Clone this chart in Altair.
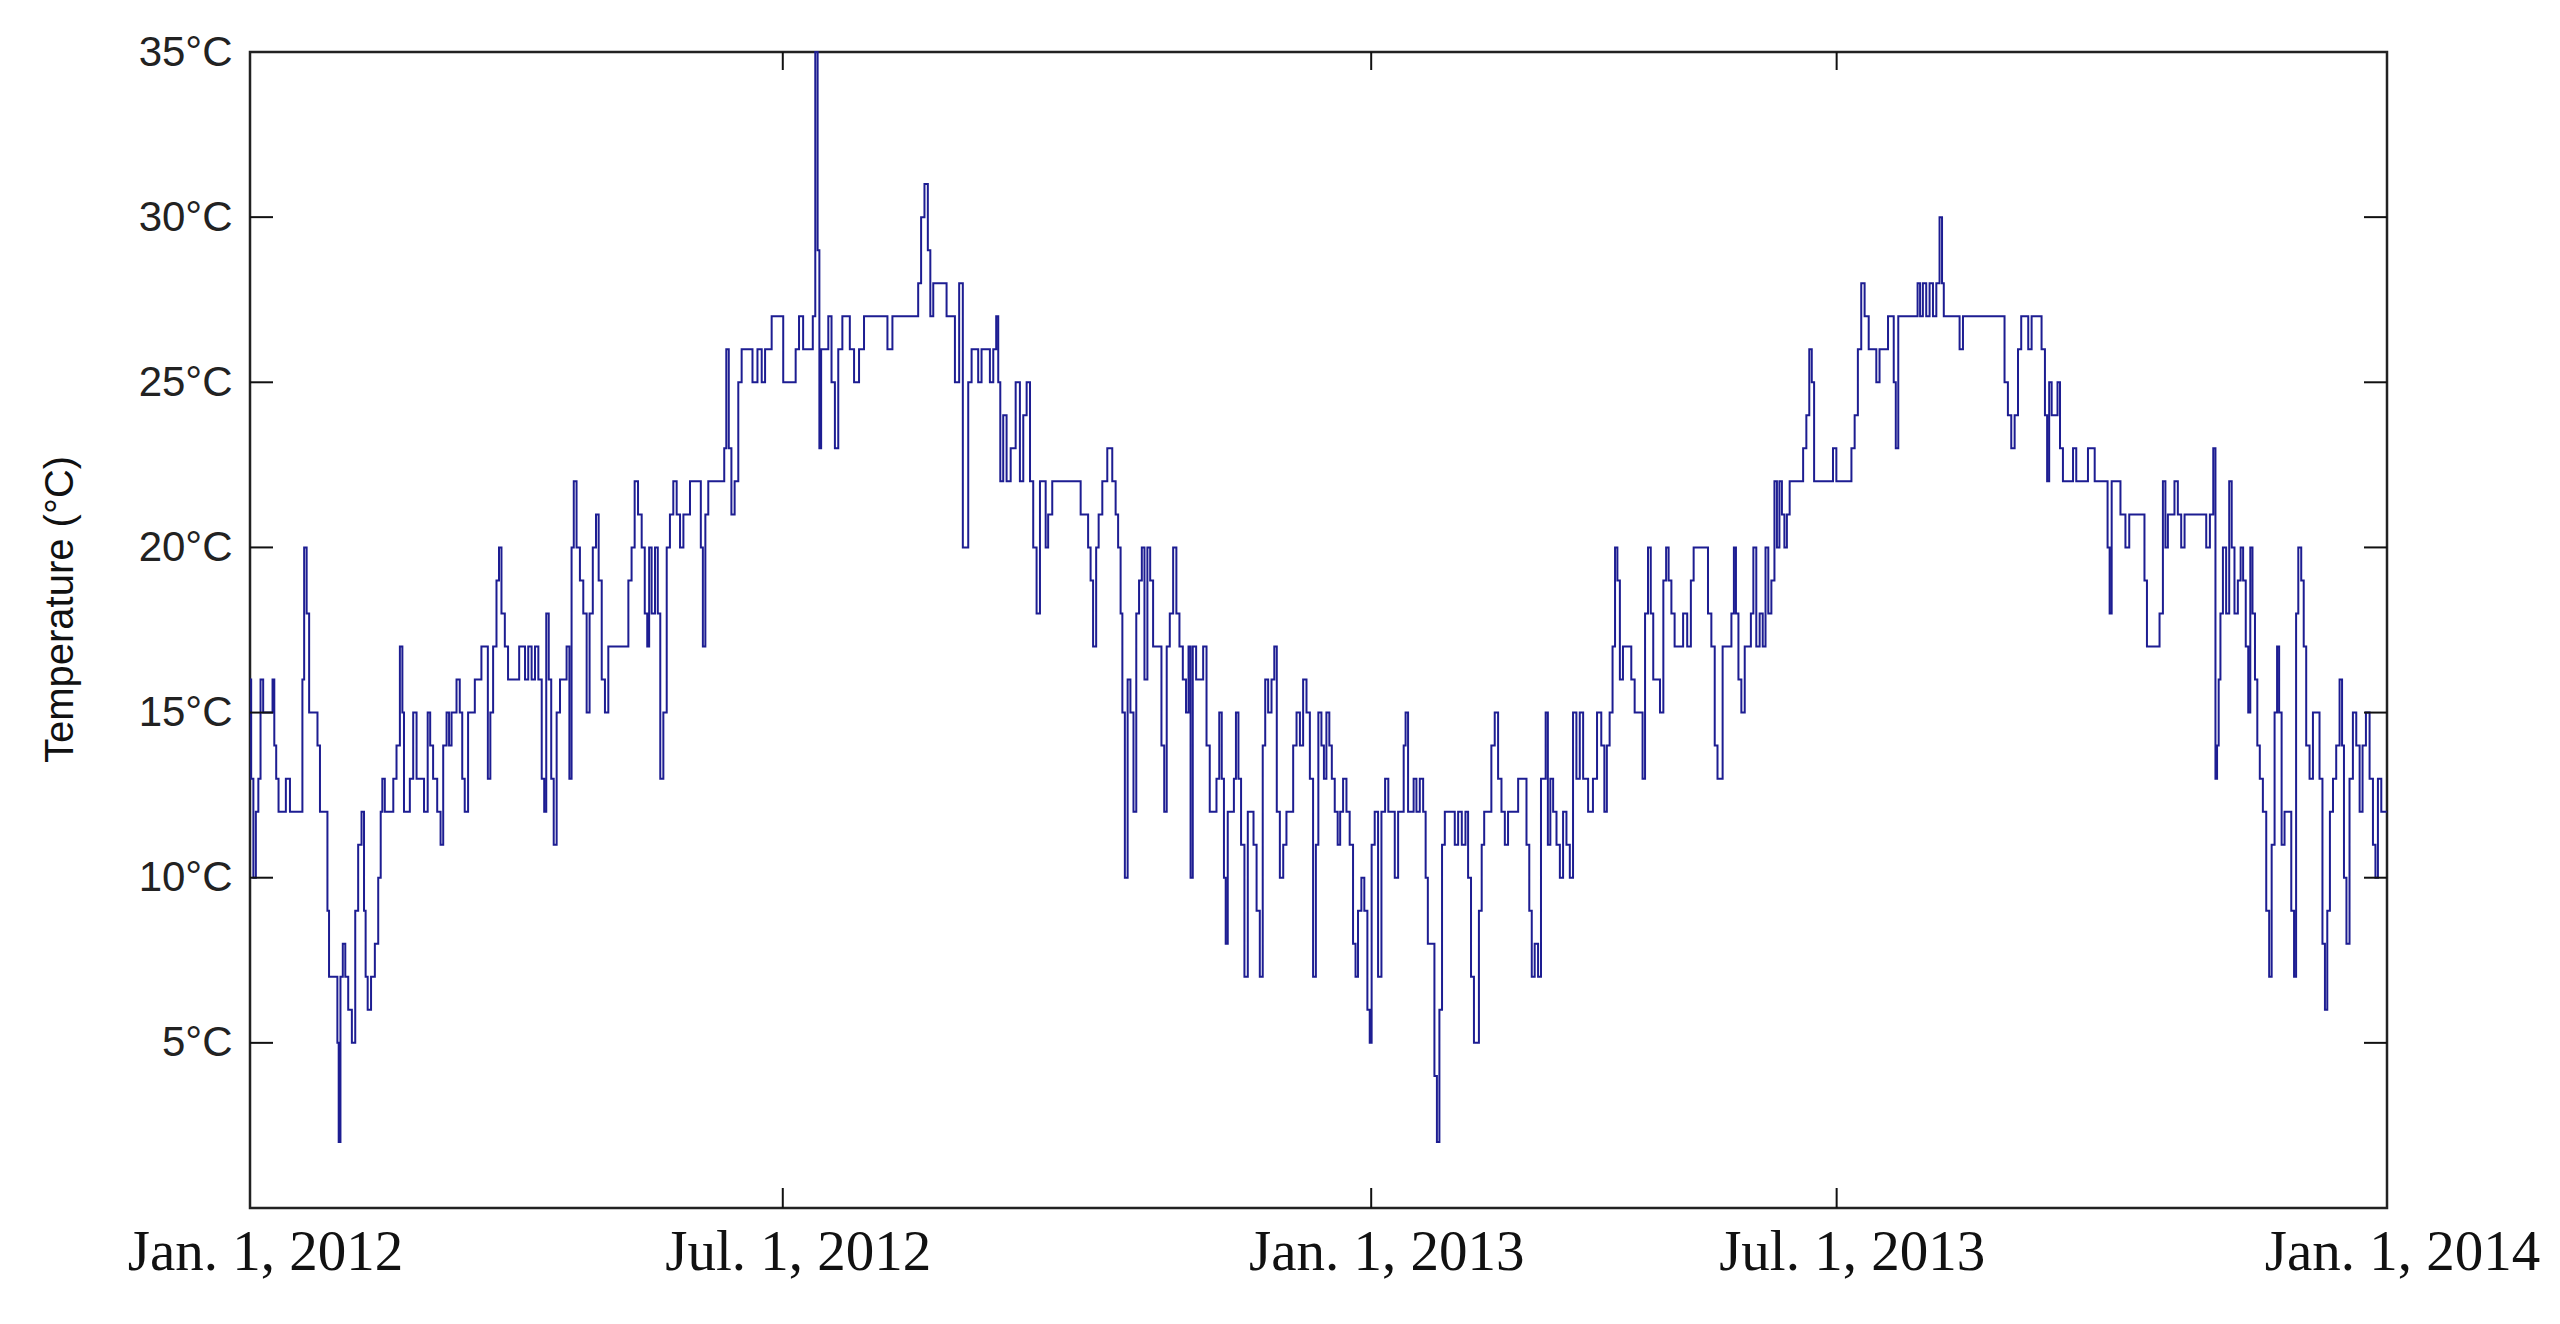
import altair as alt
import pandas as pd

# ---- data (day index from Jan 1 2012, temperature in °C) ----
days_a = [0, 0.8, 1.5, 2.5, 3.2, 4, 5, 7.4, 8, 8.6, 9.3, 10.2, 11.4, 13.1, 14.2, 17.6, 18.2, 18.8, 19.9, 20.5,
          22.8, 23.3, 24.5, 26.2, 26.7, 27.3, 29.6, 30.1, 30.5, 31.3, 32.1, 33, 34.1, 35.5, 36.4, 37.5, 38.7, 39.2,
          39.8, 40.6, 42.1, 43.2, 44.4, 44.9, 45.5, 46.6, 48.4, 49.5, 50.6, 51.8, 52.3, 52.9, 54, 55.2, 56.3, 57.5,
          58.6, 60.3, 61.1, 62, 63.1, 64.8, 65.4, 66.6, 67.7, 68.3, 69.4, 70, 71.1, 72.2, 72.8, 73.9, 75.1, 76.2,
          77.4, 78.5, 79.6, 80.8, 81.7, 82.5, 83.6, 84.8, 85.3, 86.5, 87.6, 88.7]
temps_a = [16, 13, 10, 12, 13, 16, 15, 15, 16, 14, 13, 12, 12, 13, 12, 12, 16, 20, 18, 15,
           15, 14, 12, 12, 9, 7, 7, 5, 2, 7, 8, 7, 6, 5, 9, 11, 12, 9,
           7, 6, 7, 8, 10, 12, 13, 12, 12, 13, 14, 17, 15, 12, 12, 13, 15, 13,
           13, 12, 15, 14, 13, 12, 11, 14, 15, 14, 15, 15, 16, 15, 13, 12, 15, 15,
           16, 16, 17, 17, 13, 15, 17, 19, 20, 18, 17, 16]

days_b = [90.5, 93.4, 94.5, 95.6, 96.8, 97.9, 99.1, 100.2, 100.8, 101.6, 102.5, 103.3, 104.2, 105.3, 106.5,
          107.6, 108.7, 109.5, 110.2, 111, 112.1, 113.3, 114.4, 115.6, 116.4, 117.8, 118.6, 119.6, 120.7, 121.8,
          123, 126.4, 128.7, 129.8, 130.9, 131.9, 133.2, 134.4, 135.3, 136.1, 136.6, 137.8, 138.9, 139.7, 140.6,
          141.8, 142.9, 144, 145.2, 146.3, 147.5, 148.6, 149.7, 150.9, 153.7, 154.3, 155.1, 156, 157.1, 158.3,
          161.7, 162.3, 163.1, 164, 164.9, 166.2, 167.4, 168.5, 170.8, 172.5, 174.2, 175.4, 176.5, 177.6, 178.8,
          181.6]
temps_b = [16, 17, 16, 17, 16, 17, 16, 13, 12, 18, 16, 13, 11, 15, 16,
           16, 17, 13, 20, 22, 20, 19, 18, 15, 18, 20, 21, 19, 16, 15,
           17, 17, 17, 19, 20, 22, 21, 20, 18, 17, 20, 18, 20, 18, 13,
           15, 20, 21, 22, 21, 20, 21, 21, 22, 22, 20, 17, 21, 22, 22,
           22, 23, 26, 23, 21, 22, 25, 26, 26, 25, 26, 25, 26, 26, 27,
           27]

days_c = [182.7, 186.1, 186.7, 188.4, 189.5, 191.8, 192.7, 193.5, 194.3, 194.7, 195.5, 197, 198.1, 199.2, 200.4,
          201.5, 203.2, 204.3, 205.5, 207.2, 208.9, 210.6, 211.8, 216.9, 218.6, 220.3, 227.7, 228.8, 229.7, 231.1,
          232, 232.8, 234, 235.7, 237.4, 238.5, 240.2, 241.4, 243.1, 243.9, 244.8, 245.9, 247.1, 248.2, 249.3,
          250.5, 252.2, 253.3, 254.5, 255.3, 255.9, 256.7, 257.9, 259, 260.7, 262.4, 263.6, 264.7, 265.9, 267,
          268.1, 269.3, 270.4, 271.5]
temps_c = [25, 25, 26, 27, 26, 26, 27, 35, 29, 23, 26, 26, 27, 25, 23,
           26, 27, 27, 26, 25, 26, 27, 27, 27, 26, 27, 27, 28, 30, 31,
           29, 27, 28, 28, 28, 27, 27, 25, 28, 20, 20, 25, 26, 26, 25,
           26, 26, 25, 26, 27, 25, 22, 24, 22, 23, 25, 22, 24, 25, 22,
           20, 18, 22, 22]

days_d = [272.1, 273.2, 274.9, 276, 283.5, 284, 285.7, 286.9, 287.4, 288.6, 289.5, 290.3, 292, 293.7, 295.4,
          296, 297.1, 297.7, 298.3, 299.4, 300.2, 301.3, 302.3, 303.2, 304.2, 305.1, 306, 307.1, 307.9, 309.1,
          310.8, 311.9, 312.7, 313.6, 314.8, 315.9, 317, 318, 319.3, 320.2, 321, 321.6, 322.5, 323.9, 325,
          326.2, 327.3, 328.4, 329.6, 330.7, 331.5, 332.4, 333, 333.6, 334.4, 335.8, 336.4, 337.2, 338.1, 339,
          340.4, 341.3, 342.3, 343.3, 344.4, 345.5, 346.4, 347.2, 348.4, 349.5, 350.3, 351.2, 352.4, 353.5, 354.6,
          355.8, 356.9, 358.1, 359.2, 360.3, 361.5, 362.6]
temps_d = [20, 21, 22, 22, 22, 21, 21, 20, 19, 17, 20, 21, 22, 23, 22,
           21, 20, 18, 15, 10, 16, 15, 12, 18, 19, 20, 16, 20, 19, 17,
           17, 14, 12, 17, 18, 20, 18, 17, 16, 15, 17, 10, 17, 16, 16,
           17, 14, 12, 12, 13, 15, 13, 10, 8, 12, 12, 13, 15, 13, 11,
           7, 12, 12, 11, 9, 7, 14, 16, 15, 16, 17, 12, 10, 11, 12,
           12, 14, 15, 14, 16, 15, 13]

days_e = [363.7, 364.5, 365.4, 366.6, 367.1, 368.3, 369.1, 370, 371.1, 372, 372.8, 374, 375.1, 376.2, 377.4,
          377.9, 379.1, 380.2, 381.1, 382.3, 382.7, 383.6, 384.8, 385.9, 387.1, 388.4, 389.3, 390.5, 391.6, 392.8,
          393.7, 394.5, 395, 396.2, 397.1, 397.9, 399, 400.2, 401.3, 401.9, 402.8, 404.1, 405.1, 405.8, 406.8,
          407.6, 408.7, 411, 412.1, 413.3, 414.6, 415.8, 416.4, 417.8, 418.4, 419.3, 420.3, 421.2, 422, 423.5,
          424.6, 425.8, 426.9, 428.1, 429.2, 430.3, 431.5, 432.6, 433.8, 435.5, 436.6, 437.4, 438.3, 439.4, 440.6,
          441.4, 442.3, 442.9, 443.8, 444.6, 445.7, 446.9, 448, 449.1, 450.3, 451.4, 452.5, 453.7, 454.8, 456]
temps_e = [7, 11, 15, 14, 13, 15, 14, 13, 12, 11, 12, 13, 12, 11, 8,
           7, 9, 10, 9, 6, 5, 11, 12, 7, 12, 13, 12, 12, 10, 12,
           12, 14, 15, 12, 12, 13, 12, 13, 12, 10, 8, 8, 4, 2, 6,
           11, 12, 12, 11, 12, 11, 12, 10, 7, 5, 5, 9, 11, 12, 12,
           14, 15, 13, 12, 11, 12, 12, 12, 13, 13, 11, 9, 7, 8, 7,
           13, 13, 15, 11, 13, 12, 11, 10, 12, 11, 10, 15, 13, 15, 13]

days_f = [458.2, 459.3, 461, 462.2, 463.1, 463.9, 465, 465.9, 466.7, 467.5, 468.4, 469.6, 471.3, 472.4, 473.6,
          475.3, 476.1, 477, 478.1, 478.9, 479.8, 481, 482.3, 483.3, 484.2, 485, 486.1, 487.2, 489, 490.1,
          491.8, 492.6, 493.7, 497.5, 498.6, 499.8, 500.9, 501.7, 502.6, 503.5, 505.5, 506.6, 507.2, 508, 508.9,
          510, 511.2, 512.3, 513.1, 514, 515.1, 516.3, 517.2, 518.2, 519.1, 520.3, 521.2, 522, 522.9, 523.7,
          524.6, 525.4, 526.5, 527.7, 530, 531.1, 532.2, 533.1, 533.9, 534.7, 536.8, 540.2, 541.3, 542.5, 543.6,
          545.3, 546.5]
temps_f = [12, 13, 15, 14, 12, 14, 15, 17, 20, 19, 16, 17, 17, 16, 15,
           15, 13, 18, 20, 18, 16, 16, 15, 19, 20, 19, 18, 17, 17, 18,
           17, 19, 20, 20, 18, 17, 14, 13, 13, 17, 17, 18, 20, 18, 16,
           15, 17, 17, 18, 20, 17, 18, 17, 20, 18, 19, 22, 20, 22, 21,
           20, 21, 22, 22, 22, 23, 24, 26, 25, 22, 22, 22, 23, 22, 22,
           22, 22]

days_g = [547.6, 548.7, 549.8, 551, 552.1, 553.8, 555, 556.1, 557.2, 559, 560.1, 561.2, 561.8, 562.6, 563.5,
          564.6, 569.2, 570.1, 570.9, 572, 573.2, 574.3, 575.5, 576.6, 577.7, 578.3, 578.9, 583.4, 584.6, 585.7,
          598.8, 599.9, 601.1, 602.2, 603.4, 604.5, 605.6, 606.8, 608.1, 609.1, 610.2, 611.3, 612.7, 613.6, 614.2,
          615, 615.9, 617, 617.9, 618.7, 619.9, 621, 622.2, 623.3, 624.4, 626.1, 627.3, 628.4, 629.6, 630.7,
          634.1, 635, 635.5, 636.4, 638.1]
temps_g = [23, 24, 26, 28, 27, 26, 26, 25, 26, 26, 27, 27, 25, 23, 27,
           27, 27, 28, 27, 28, 27, 28, 27, 28, 30, 28, 27, 27, 26, 27,
           27, 25, 24, 23, 24, 26, 27, 27, 26, 27, 27, 27, 26, 24, 22,
           25, 24, 24, 25, 23, 22, 22, 22, 23, 22, 22, 22, 23, 23, 22,
           22, 20, 18, 22, 22]

days_h = [639.8, 641.5, 642.4, 643.2, 644.3, 646.6, 647.7, 648.3, 651.7, 652.9, 654, 654.6, 655.7, 656.8, 658,
          659.1, 660.3, 661.4, 667.7, 668.8, 670.2, 671.1, 671.7, 672.2, 672.8, 673.4, 674.5, 675.6, 676.6, 677.3,
          678.5, 679.6, 680.4, 681.3, 682.2, 683, 683.6, 684.5, 685.3, 686.1, 687, 688.2, 689.3, 690.2, 691,
          692.2, 692.7, 693.6, 694.4, 695.6, 696.7, 697.9, 698.6, 699.3, 700.1, 701.3, 701.8, 703, 704.1, 705.3,
          706.4, 707.5, 708.4, 709.2, 710, 711, 712.1, 713.2, 714.4, 714.9, 715.7, 716.6, 717.8, 718.9, 720.1,
          721.2, 722.1, 723.5, 724.6, 725.8, 726.3, 727.5, 728.6, 729.9]
temps_h = [21, 20, 21, 21, 21, 21, 19, 17, 17, 18, 22, 20, 21, 21, 22,
           21, 20, 21, 21, 20, 21, 23, 13, 14, 16, 18, 20, 18, 22, 20,
           18, 19, 20, 19, 17, 15, 20, 18, 16, 14, 13, 12, 9, 7, 11,
           15, 17, 15, 11, 12, 12, 9, 7, 18, 20, 19, 17, 14, 13, 15,
           15, 13, 8, 6, 9, 12, 13, 14, 16, 14, 10, 8, 13, 15, 14,
           12, 14, 15, 13, 11, 10, 13, 12, 12]

x_tick_values = [0, 182, 383, 542, 730]
x_tick_labels = ["Jan. 1, 2012", "Jul. 1, 2012", "Jan. 1, 2013", "Jul. 1, 2013", "Jan. 1, 2014"]
y_tick_values = [5, 10, 15, 20, 25, 30, 35]

days = days_a + days_b + days_c + days_d + days_e + days_f + days_g + days_h
temps = temps_a + temps_b + temps_c + temps_d + temps_e + temps_f + temps_g + temps_h
df = pd.DataFrame({"day": days, "temp": temps})

W, H = 2137, 1156
x_scale = alt.Scale(domain=[0, 730], nice=False, zero=False)
y_scale = alt.Scale(domain=[0, 35], nice=False, zero=False)

label_expr = ("[" + ",".join("'%s'" % l for l in x_tick_labels) + "][indexof(["
              + ",".join(str(v) for v in x_tick_values) + "], datum.value)]")

x_axis = alt.Axis(
    values=x_tick_values, labelExpr=label_expr, title=None, ticks=False,
    domain=False, grid=False, labelFont="Liberation Serif", labelFontSize=57,
    labelColor="#111", labelPadding=16, labelOffset=15, labelFlush=False,
    labelOverlap=False, labelBaseline="top", labelLimit=600)
y_axis = alt.Axis(
    values=y_tick_values, labelExpr="datum.value + '°C'", title="Temperature (°C)",
    ticks=False, domain=False, grid=False, labelFont="Liberation Sans",
    labelFontSize=42, labelColor="#222", labelPadding=18, labelFlush=False,
    titleFont="Liberation Sans", titleFontSize=40, titleFontWeight="normal",
    titleColor="#111", titleAngle=270, titleX=-190, titleY=557,
    titleAlign="center", titleBaseline="middle")

line = alt.Chart(df).mark_line(color="#1d1d92", strokeWidth=2, interpolate="step").encode(
    x=alt.X("day:Q", scale=x_scale, axis=x_axis),
    y=alt.Y("temp:Q", scale=y_scale, axis=y_axis),
)

ytick_df = pd.DataFrame({"temp": [5, 10, 15, 20, 25, 30]})
xtick_df = pd.DataFrame({"day": [182, 383, 542]})

left_ticks = alt.Chart(ytick_df).mark_rule(color="#111", strokeWidth=2).encode(
    y=alt.Y("temp:Q", scale=y_scale, axis=y_axis), x=alt.value(0), x2=alt.value(23))
right_ticks = alt.Chart(ytick_df).mark_rule(color="#111", strokeWidth=2).encode(
    y=alt.Y("temp:Q", scale=y_scale, axis=y_axis), x=alt.value(W - 23), x2=alt.value(W))
bottom_ticks = alt.Chart(xtick_df).mark_rule(color="#111", strokeWidth=2).encode(
    x=alt.X("day:Q", scale=x_scale, axis=x_axis), y=alt.value(H - 20), y2=alt.value(H))
top_ticks = alt.Chart(xtick_df).mark_rule(color="#111", strokeWidth=2).encode(
    x=alt.X("day:Q", scale=x_scale, axis=x_axis), y=alt.value(0), y2=alt.value(18))

chart = alt.layer(line, left_ticks, right_ticks, bottom_ticks, top_ticks).properties(
    width=W, height=H,
    autosize=alt.AutoSizeParams(type="none"),
    padding={"left": 242, "top": 44, "right": 165, "bottom": 100},
    background="white",
).configure_view(stroke="#222", strokeWidth=2.5)

chart.save("out.html", embed_options={"renderer": "svg", "actions": False})
